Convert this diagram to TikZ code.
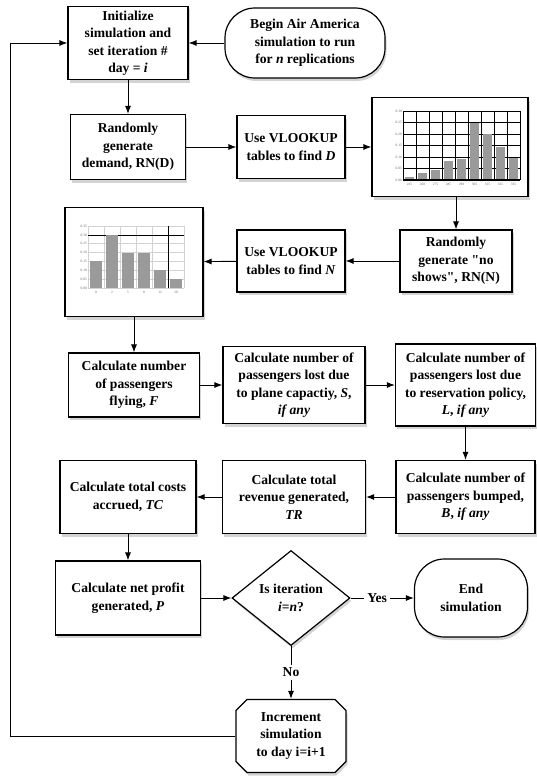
\documentclass[tikz,border=0pt]{standalone}
\usepackage{fontspec}
\setmainfont{Liberation Serif}[Ligatures=TeXOff]
\usetikzlibrary{shapes.geometric,shapes.misc,shadows,arrows.meta}

\begin{document}
\begin{tikzpicture}[x=1pt, y=-1pt,
  font=\fontsize{13.6}{17.5}\selectfont\bfseries,
  box/.style={draw, line width=1.2pt, fill=white, align=center, inner sep=1pt,
    drop shadow={shadow xshift=1.5pt, shadow yshift=-3pt, opacity=0.35}},
  roundbox/.style={box, rounded corners=30pt},
  decide/.style={box, diamond, shape aspect=1.25, inner sep=0pt},
  loopbox/.style={box, chamfered rectangle, chamfered rectangle xsep=8pt},
  chartbox/.style={box, inner sep=0pt},
  flow/.style={-{Latex[length=8pt,width=6pt]}, line width=0.9pt},
  tick/.style={font=\fontsize{3.5}{4}\selectfont, text=black!60, inner sep=1pt}]
\definecolor{BarGray}{HTML}{9A9A9A};
\useasboundingbox (0,0) rectangle (537,776);

% start
\node[box, minimum width=120pt, minimum height=73pt] (init) at (128,43)
  {Initialize\\simulation and\\set iteration \#\\day = \textit{i}};
\node[roundbox, minimum width=160pt, minimum height=70pt] (begin) at (305,43)
  {Begin Air America\\simulation to run\\for \textit{n} replications};

% demand
\node[box, minimum width=115pt, minimum height=65pt] (demand) at (128,147)
  {Randomly\\generate\\demand, RN(D)};
\node[box, minimum width=108pt, minimum height=63pt] (lookD) at (291,147)
  {Use VLOOKUP\\tables to find \textit{D}};
\node[chartbox, minimum width=156pt, minimum height=99pt] (chartD) at (450,147) {};
\begin{scope}[shift={(403,180)}, x=13pt, y=230pt]
\foreach \k in {0,...,6}
    \draw[line width=0.8pt] (0,\k*0.05) -- (9,\k*0.05);
\foreach \k in {0,...,9}
    \draw[line width=0.8pt] (\k,0) -- (\k,0.30);
\foreach \v [count=\k] in {0.012,0.029,0.042,0.083,0.092,0.25,0.2,0.145,0.094}
    \fill[BarGray] (\k-0.85,0) rectangle (\k-0.15,\v);
\draw[line width=1.4pt] (0,0) -- (9,0);
\foreach \t [count=\k from 0] in {0.00,0.05,0.10,0.15,0.20,0.25,0.30}
    \node[tick, left] at (0,\k*0.05) {\t};
\foreach \t [count=\k] in {235,260,275,285,290,305,315,325,335}
    \node[tick, below=2pt] at (\k-0.5,0) {\t};
\end{scope}

% no shows
\node[box, minimum width=112pt, minimum height=62pt] (noshow) at (456,261)
  {Randomly\\generate "no\\shows", RN(N)};
\node[box, minimum width=108pt, minimum height=62pt] (lookN) at (291,261)
  {Use VLOOKUP\\tables to find \textit{N}};
\node[chartbox, minimum width=138pt, minimum height=109pt] (chartN) at (134,262) {};
\begin{scope}[shift={(88,288)}, x=16pt, y=177pt]
\foreach \k in {0,...,7}
    \draw[gray!35, line width=0.5pt] (0,\k*0.05) -- (6,\k*0.05);
\foreach \k in {0,...,6}
    \draw[gray!35, line width=0.5pt] (\k,0) -- (\k,0.35);
\draw[line width=0.7pt] (0,0.30) -- (6,0.30);
\draw[line width=0.7pt] (5,0) -- (5,0.35);
\foreach \v [count=\k] in {0.15,0.30,0.20,0.20,0.10,0.05}
    \fill[BarGray] (\k-0.85,0) rectangle (\k-0.15,\v);
\foreach \t [count=\k from 0] in {0.00,0.05,0.10,0.15,0.20,0.25,0.30,0.35}
    \node[tick, left] at (0,\k*0.05) {\t};
\foreach \t [count=\k] in {0,2,5,8,12,20}
    \node[tick, below=2pt] at (\k-0.5,0) {\t};
\end{scope}

% passengers
\node[box, minimum width=131pt, minimum height=64pt] (flyF) at (134,385)
  {Calculate number\\of passengers\\flying, \textit{F}};
\node[box, minimum width=142pt, minimum height=77pt] (lostS) at (294,385)
  {Calculate number of\\passengers lost due\\to plane capactiy, \textit{S},\\\textit{if any}};
\node[box, minimum width=140pt, minimum height=82pt] (lostL) at (465.5,385)
  {Calculate number of\\passengers lost due\\to reservation policy,\\\textit{L}, \textit{if any}};

% money
\node[box, minimum width=139pt, minimum height=73pt] (bumpB) at (465.5,497)
  {Calculate number of\\passengers bumped,\\\textit{B}, \textit{if any}};
\node[box, minimum width=143pt, minimum height=73pt] (revTR) at (294,497)
  {Calculate total\\revenue generated,\\\textit{TR}};
\node[box, minimum width=136pt, minimum height=73pt] (costTC) at (128,497)
  {Calculate total costs\\accrued, \textit{TC}};

% check
\node[box, minimum width=145pt, minimum height=74pt] (profitP) at (128,598)
  {Calculate net profit\\generated, \textit{P}};
\node[decide, minimum width=118pt, minimum height=95pt] (iter) at (291,598)
  {Is iteration\\\textit{i}=\textit{n}?};
\node[roundbox, minimum width=113pt, minimum height=78pt] (stop) at (471,598)
  {End\\simulation};
\node[loopbox, minimum width=110pt, minimum height=73pt] (incr) at (291,736)
  {Increment\\simulation\\to day i=i+1};

% arrows
\draw[flow] (begin) -- (init);
\draw[flow] (init) -- (demand);
\draw[flow] (demand) -- (lookD);
\draw[flow] (lookD) -- (chartD);
\draw[flow] (noshow.north |- chartD.south) -- (noshow.north);
\draw[flow] (noshow) -- (lookN);
\draw[flow] (lookN) -- (chartN);
\draw[flow] (chartN) -- (flyF);
\draw[flow] (flyF) -- (lostS);
\draw[flow] (lostS) -- (lostL);
\draw[flow] (lostL) -- (bumpB);
\draw[flow] (bumpB) -- (revTR);
\draw[flow] (revTR) -- (costTC);
\draw[flow] (costTC) -- (profitP);
\draw[flow] (profitP) -- (iter);
\draw[flow] (iter) -- node[fill=white, pos=0.42, inner sep=3pt] {Yes} (stop);
\draw[flow] (iter) -- node[fill=white, inner sep=3pt] {No} (incr);
\coordinate (loopbot) at (10,736);
\draw[flow] (incr.west) -- (loopbot) |- (init.west);
\end{tikzpicture}
\end{document}
